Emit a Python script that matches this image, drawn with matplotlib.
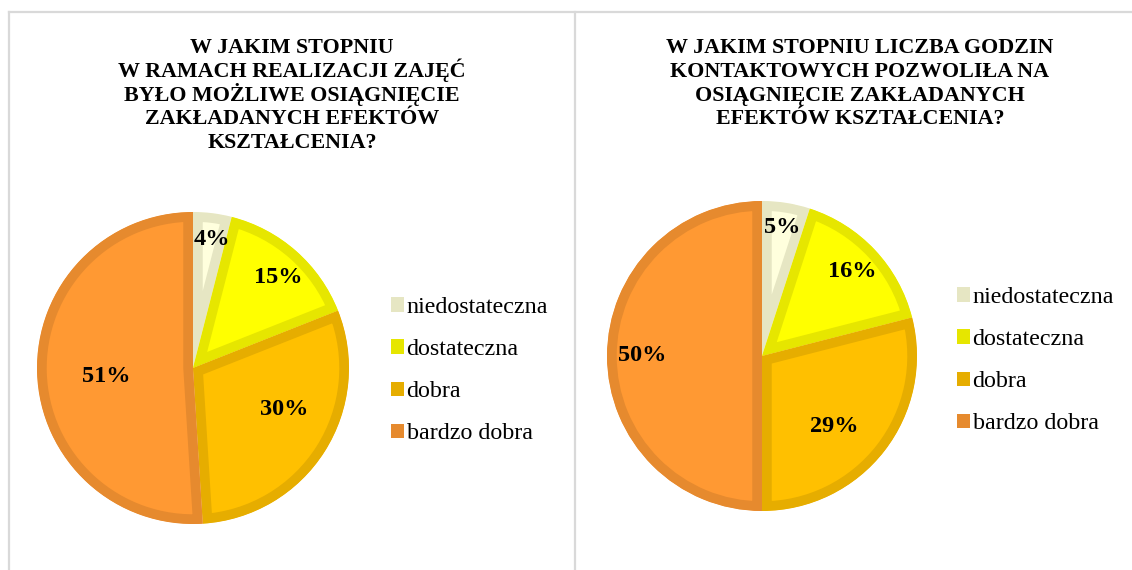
import numpy as np
import matplotlib
matplotlib.use("Agg")
import matplotlib.pyplot as plt
from matplotlib.patches import Patch
from matplotlib.lines import Line2D

W, H = 1132, 570

categories = ["niedostateczna", "dostateczna", "dobra", "bardzo dobra"]
left_values = [4, 15, 30, 51]
right_values = [5, 16, 29, 50]
left_title = ["W JAKIM STOPNIU", "W RAMACH REALIZACJI ZAJĘĆ", "BYŁO MOŻLIWE OSIĄGNIĘCIE",
              "ZAKŁADANYCH EFEKTÓW", "KSZTAŁCENIA?"]
right_title = ["W JAKIM STOPNIU LICZBA GODZIN", "KONTAKTOWYCH POZWOLIŁA NA",
               "OSIĄGNIĘCIE ZAKŁADANYCH", "EFEKTÓW KSZTAŁCENIA?"]

fill_colors = ["#FFFFDD", "#FFFF00", "#FFC000", "#FF9933"]
edge_colors = ["#E6E6C3", "#E6E600", "#E6AD00", "#E68A2E"]

plt.rcParams['font.family'] = ['Liberation Serif', 'DejaVu Serif']

fig = plt.figure(figsize=(W / 100, H / 100), dpi=100)


def px_axes(cx, cy, r):
    """axes of 2r x 2r pixels centred on (cx, cy), y from the top"""
    return fig.add_axes([(cx - r) / W, (H - cy - r) / H, 2 * r / W, 2 * r / H])


def draw_pie(ax, values, label_dist, label_turn):
    wedges, _ = ax.pie(values, colors=fill_colors, startangle=90, counterclock=False,
                       wedgeprops=dict(linewidth=14))
    for w, ec in zip(wedges, edge_colors):
        w.set_edgecolor(ec)
        w.set_clip_path(w)  # keep the border inside each slice
        w.set_clip_on(True)
    # percentage labels, placed like excel's "best fit"
    for w, v, d, t in zip(wedges, values, label_dist, label_turn):
        ang = np.deg2rad((w.theta1 + w.theta2) / 2 + t)
        ax.text(d * np.cos(ang), d * np.sin(ang), f"{v}%", ha='center', va='center',
                fontsize=17.5, fontweight='bold')
    ax.set_xlim(-1, 1)
    ax.set_ylim(-1, 1)
    ax.set_aspect('equal')
    ax.axis('off')


def draw_legend(ax, x, y):
    handles = [Patch(facecolor=c, edgecolor='none') for c in edge_colors]
    ax.legend(handles, categories, loc='upper left', bbox_to_anchor=(x / W, 1 - y / H),
              bbox_transform=fig.transFigure, frameon=False, fontsize=17.3,
              handlelength=0.55, handleheight=0.55, handletextpad=0.1,
              labelspacing=0.88, borderpad=0, borderaxespad=0)


def draw_title(lines, x):
    for i, line in enumerate(lines):
        fig.text(x / W, 1 - (53 + 23.8 * i) / H, line, ha='center', va='baseline',
                 fontsize=15.8, fontweight='bold')


# panel frames
frame_kw = dict(color="#D9D9D9", linewidth=1.6, transform=fig.transFigure)
fig.add_artist(Line2D([9 / W, 9 / W], [0, 1 - 12 / H], **frame_kw))
fig.add_artist(Line2D([575 / W, 575 / W], [0, 1 - 12 / H], **frame_kw))
fig.add_artist(Line2D([9 / W, 1], [1 - 12 / H, 1 - 12 / H], **frame_kw))

# left chart
ax1 = px_axes(193, 368, 156)
draw_pie(ax1, left_values, [0.83, 0.80, 0.64, 0.56], [-1, -2, 8, 4])
draw_legend(ax1, 391, 297)
draw_title(left_title, 292)

# right chart
ax2 = px_axes(762, 356, 155)
draw_pie(ax2, right_values, [0.84, 0.80, 0.65, 0.77], [0, 0, -6.5, 0])
draw_legend(ax2, 957, 287)
draw_title(right_title, 860)

fig.savefig("out.png", dpi=100)
